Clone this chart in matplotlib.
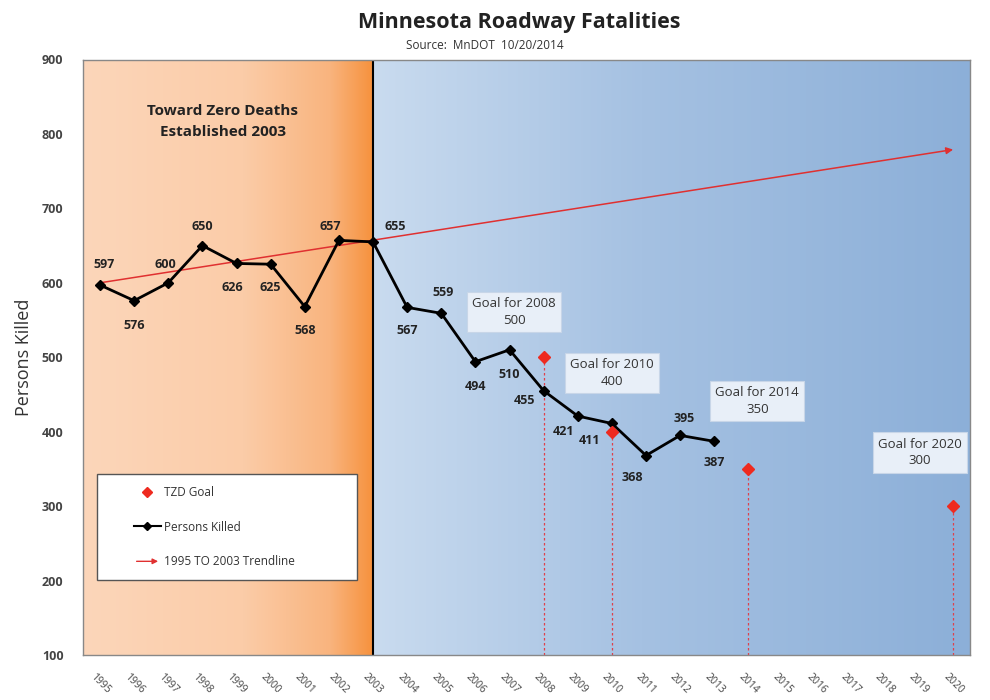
import numpy as np
import matplotlib
matplotlib.use("Agg")
import matplotlib.pyplot as plt
from matplotlib.colors import LinearSegmentedColormap
from matplotlib.lines import Line2D
from matplotlib.legend_handler import HandlerBase
from matplotlib.patches import FancyArrowPatch

plt.rcParams['font.family'] = ['Open Sans', 'DejaVu Sans']

# ---- data ----
years = list(range(1995, 2021))
killed_years = list(range(1995, 2014))
killed = [597, 576, 600, 650, 626, 625, 568, 657, 655, 567, 559, 494, 510,
          455, 421, 411, 368, 395, 387]
goal_years = [2008, 2010, 2014, 2020]
goal_values = [500, 400, 350, 300]
trend_years = [1995, 2020]
trend_values = [600, 779]
tzd_year = 2003

# label offsets (points) for the data labels
label_offsets = {1995: (3, 15), 1996: (0, -18), 1997: (-2, 13), 1998: (0, 14),
                 1999: (-3, -17), 2000: (0, -17), 2001: (0, -17), 2002: (-6, 10),
                 2003: (16, 11), 2004: (0, -17), 2005: (1, 15), 2006: (0, -18),
                 2007: (0, -18), 2008: (-14, -7), 2009: (-10, -11), 2010: (-16, -12),
                 2011: (-10, -16), 2012: (3, 12), 2013: (0, -15)}

fig = plt.figure(figsize=(9.9, 7), dpi=100)
ax = fig.add_axes([0.0838, 0.0643, 0.8962, 0.8507])

x0, x1 = 1994.5, 2020.5

# gradients
orange = LinearSegmentedColormap.from_list(
    "o", [(0, "#fcd6ba"), (0.55, "#fbcca8"), (0.85, "#f9b47e"), (1.0, "#f6913c")])
blue = LinearSegmentedColormap.from_list(
    "b", [(0, "#c9dbef"), (0.45, "#a5c1e2"), (1.0, "#8cafd8")])
grad = np.linspace(0, 1, 256).reshape(1, -1)
ax.imshow(grad, cmap=orange, extent=[x0, tzd_year, 100, 900], aspect='auto', zorder=0)
ax.imshow(grad, cmap=blue, extent=[tzd_year, x1, 100, 900], aspect='auto', zorder=0)
ax.set_xlim(x0, x1)
ax.set_ylim(100, 900)

ax.axvline(tzd_year, color='black', lw=1.5, zorder=2)

# goal dashed lines
for gy, gv in zip(goal_years, goal_values):
    ax.plot([gy, gy], [100, gv], color='#e0404a', lw=0.9, ls=(0, (2, 2)), zorder=2)

# trendline
ax.annotate("", xy=(trend_years[1], trend_values[1]),
            xytext=(trend_years[0], trend_values[0]),
            arrowprops=dict(arrowstyle='-|>', color='#e03030', lw=1.1,
                            mutation_scale=10, shrinkA=0, shrinkB=0), zorder=3)

ax.plot(killed_years, killed, color='black', lw=2, marker='D', ms=5, zorder=4)
ax.plot(goal_years, goal_values, ls='none', marker='D', ms=6.5, color='#ee2a1f',
        zorder=5)

for yr, v in zip(killed_years, killed):
    dx, dy = label_offsets[yr]
    ax.annotate(str(v), (yr, v), xytext=(dx, dy), textcoords='offset points',
                ha='center', va='center', fontsize=9, fontweight='bold',
                color='#222222', zorder=6)

# goal boxes
goal_box_pos = [(2007.13, 561), (2010.0, 479), (2014.26, 441), (2019.03, 372)]
for (bx, by), gy, gv in zip(goal_box_pos, goal_years, goal_values):
    ax.text(bx, by, f"Goal for {gy}\n{gv}", ha='center', va='center',
            fontsize=9.5, color='#333333', linespacing=1.35, zorder=6,
            bbox=dict(boxstyle='square,pad=0.4', fc='#e8eff8', ec='#c8d6e8', lw=0.8))

ax.text(1998.6, 817, "Toward Zero Deaths\nEstablished 2003", ha='center', va='center',
        fontsize=11, fontweight='bold', color='#222222', linespacing=1.65, zorder=6)


HSEG = 19.5  # points: drawn length of legend handle


class ArrowHandler(HandlerBase):
    def create_artists(self, legend, orig_handle, xdescent, ydescent, width, height,
                       fontsize, trans):
        a = FancyArrowPatch((width - xdescent - HSEG, height / 2),
                            (width - xdescent, height / 2),
                            arrowstyle='-|>', mutation_scale=8, color='#e03030', lw=1.0,
                            transform=trans)
        return [a]


class LineHandler(HandlerBase):
    def create_artists(self, legend, orig_handle, xdescent, ydescent, width, height,
                       fontsize, trans):
        xa, xb = width - xdescent - HSEG, width - xdescent
        ym = height / 2
        arts = []
        if orig_handle.get_linestyle() not in ('None', 'none', ''):
            ln = Line2D([xa, xb], [ym, ym], color=orig_handle.get_color(),
                        lw=orig_handle.get_linewidth(), transform=trans)
            arts.append(ln)
        mk = Line2D([(xa + xb) / 2], [ym], ls='none', marker=orig_handle.get_marker(),
                    ms=orig_handle.get_markersize(), color=orig_handle.get_color(),
                    transform=trans)
        arts.append(mk)
        return arts


h_goal = Line2D([], [], ls='none', marker='D', ms=5, color='#ee2a1f')
h_kill = Line2D([], [], color='black', lw=1.5, marker='D', ms=4)
h_trend = Line2D([], [], color='#e03030')
leg = ax.legend([h_goal, h_kill, h_trend],
                ["TZD Goal", "Persons Killed", "1995 TO 2003 Trendline"],
                handler_map={h_trend: ArrowHandler(), h_goal: LineHandler(),
                             h_kill: LineHandler()},
                loc='upper left', bbox_to_anchor=(0.016, 0.304, 0.293, 0.0),
                mode='expand', fontsize=8.5, labelspacing=1.85, handlelength=4.4,
                handletextpad=0.25, borderpad=1.0, fancybox=False, framealpha=1,
                edgecolor='#555555', borderaxespad=0)
leg.get_frame().set_linewidth(1.0)
for t in leg.get_texts():
    t.set_color('#333333')
leg.set_zorder(7)

# axes styling
for s in ax.spines.values():
    s.set_color('#888888')
    s.set_linewidth(1)
ax.set_yticks(range(100, 901, 100))
ax.set_xticks(years)
ax.set_xticklabels([str(y) for y in years], rotation=-45, ha='center', va='top',
                   fontsize=7.5, color='#444444')
ax.tick_params(axis='x', length=0, pad=12)
ax.tick_params(axis='y', length=0, pad=14, labelsize=9, labelcolor='#444444')
for t in ax.get_yticklabels():
    t.set_fontweight('bold')
ax.set_ylabel("Persons Killed", fontsize=13, color='#333333', labelpad=6)

fig.text(0.525, 0.968, "Minnesota Roadway Fatalities", ha='center', va='center',
         fontsize=15.5, fontweight='bold', color='#222222')
fig.text(0.49, 0.935, "Source:  MnDOT  10/20/2014", ha='center', va='center',
         fontsize=8.5, color='#333333')

fig.savefig("out.png", dpi=100)
